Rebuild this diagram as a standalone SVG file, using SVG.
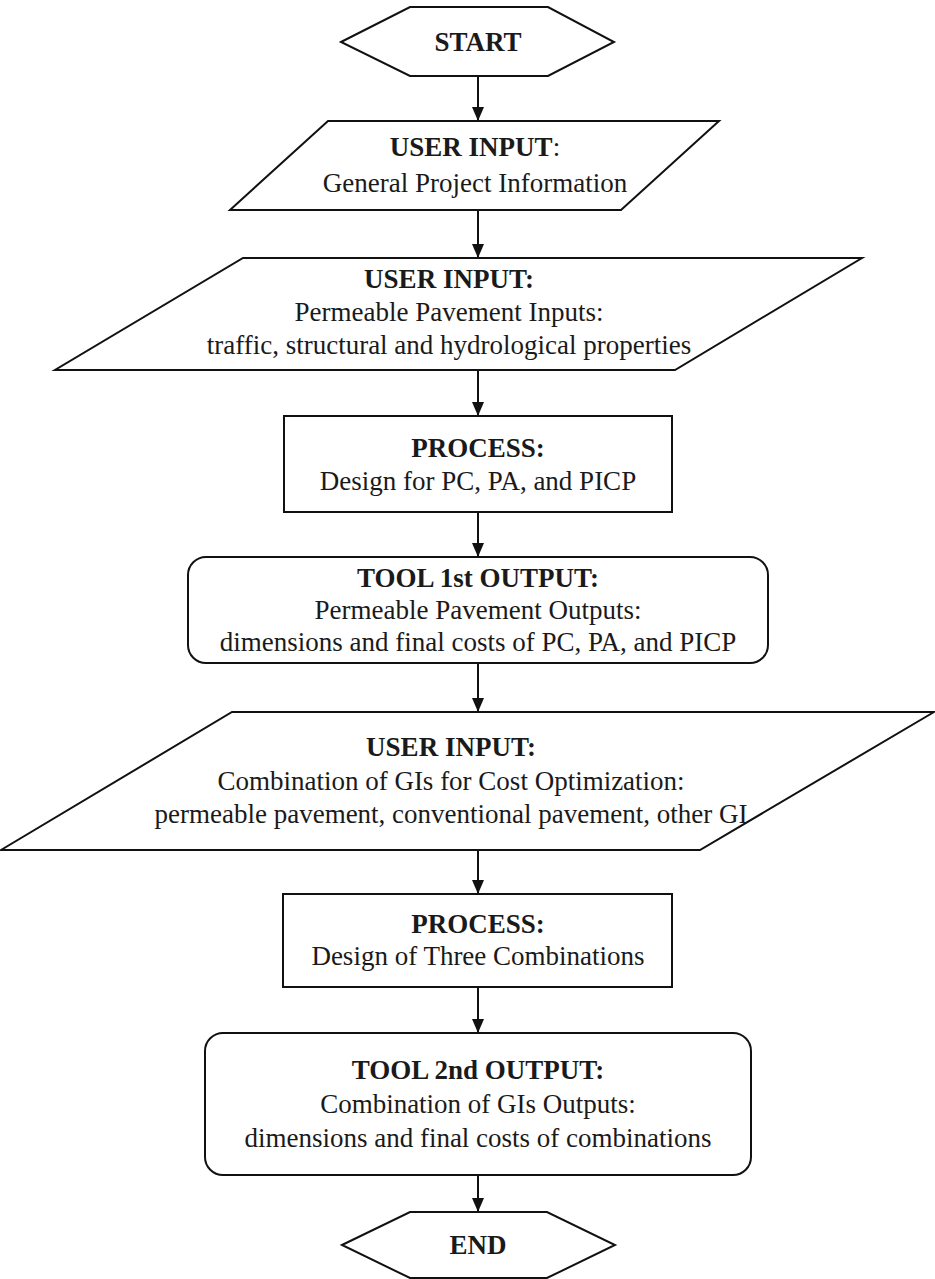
<svg xmlns="http://www.w3.org/2000/svg" width="935" height="1279" viewBox="0 0 935 1279">
  <style>
    .shape { fill: #ffffff; stroke: #111111; stroke-width: 2; stroke-linejoin: miter; }
    .conn { fill: none; stroke: #111111; stroke-width: 2; }
    text { font-family: "Liberation Serif", "Times New Roman", serif; font-size: 27px; fill: #1a1a1a; text-anchor: middle; }
    .b { font-weight: bold; }
  </style>
  <defs>
    <marker id="arrow" markerUnits="userSpaceOnUse" markerWidth="14" markerHeight="14" refX="14" refY="6" orient="auto">
      <path d="M0,0 L14,6 L0,12 Z" fill="#111111"/>
    </marker>
  </defs>
  <rect width="935" height="1279" fill="#ffffff"/>

  <g id="connectors">
    <line class="conn" x1="478" y1="76" x2="478" y2="121" marker-end="url(#arrow)"/>
    <line class="conn" x1="478" y1="210" x2="478" y2="258" marker-end="url(#arrow)"/>
    <line class="conn" x1="478" y1="370" x2="478" y2="416" marker-end="url(#arrow)"/>
    <line class="conn" x1="478" y1="512" x2="478" y2="557" marker-end="url(#arrow)"/>
    <line class="conn" x1="478" y1="663" x2="478" y2="712" marker-end="url(#arrow)"/>
    <line class="conn" x1="478" y1="850" x2="478" y2="894" marker-end="url(#arrow)"/>
    <line class="conn" x1="478" y1="987" x2="478" y2="1033" marker-end="url(#arrow)"/>
    <line class="conn" x1="478" y1="1175" x2="478" y2="1212" marker-end="url(#arrow)"/>
  </g>

  <g id="start">
    <polygon class="shape" points="341,42 410,7 548,7 614,42 548,76 410,76"/>
    <text class="b" x="478" y="51">START</text>
  </g>

  <g id="input1">
    <polygon class="shape" points="328,121 719,121 621,210 230,210"/>
    <text x="475" y="156"><tspan class="b">USER INPUT</tspan>:</text>
    <text x="475" y="192">General Project Information</text>
  </g>

  <g id="input2">
    <polygon class="shape" points="243,258 862,258 675,370 55,370"/>
    <text class="b" x="449" y="288">USER INPUT:</text>
    <text x="449" y="321">Permeable Pavement Inputs:</text>
    <text x="449" y="354">traffic, structural and hydrological properties</text>
  </g>

  <g id="process1">
    <rect class="shape" x="284" y="416" width="388" height="96"/>
    <text class="b" x="478" y="457">PROCESS:</text>
    <text x="478" y="490">Design for PC, PA, and PICP</text>
  </g>

  <g id="output1">
    <rect class="shape" x="188" y="557" width="580" height="106" rx="18" ry="18"/>
    <text class="b" x="478" y="587">TOOL 1st OUTPUT:</text>
    <text x="478" y="619">Permeable Pavement Outputs:</text>
    <text x="478" y="651">dimensions and final costs of PC, PA, and PICP</text>
  </g>

  <g id="input3">
    <polygon class="shape" points="232,712 934,712 700,850 1,850"/>
    <text class="b" x="451" y="756">USER INPUT:</text>
    <text x="451" y="790">Combination of GIs for Cost Optimization:</text>
    <text x="451" y="823">permeable pavement, conventional pavement, other GI</text>
  </g>

  <g id="process2">
    <rect class="shape" x="283" y="894" width="389" height="93"/>
    <text class="b" x="478" y="933">PROCESS:</text>
    <text x="478" y="965">Design of Three Combinations</text>
  </g>

  <g id="output2">
    <rect class="shape" x="205" y="1033" width="546" height="142" rx="18" ry="18"/>
    <text class="b" x="478" y="1079">TOOL 2nd OUTPUT:</text>
    <text x="478" y="1113">Combination of GIs Outputs:</text>
    <text x="478" y="1147">dimensions and final costs of combinations</text>
  </g>

  <g id="end">
    <polygon class="shape" points="342,1245 410,1212 547,1212 615,1245 547,1278 410,1278"/>
    <text class="b" x="478" y="1254">END</text>
  </g>
</svg>
